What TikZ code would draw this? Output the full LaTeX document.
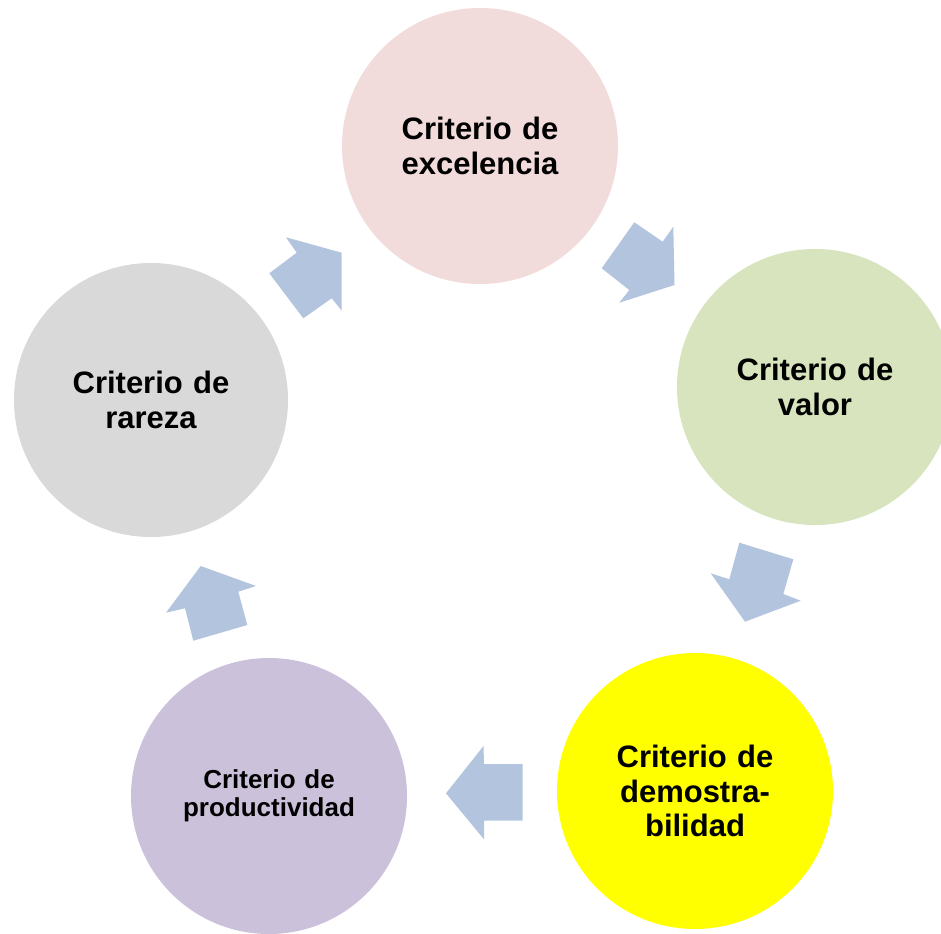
\documentclass[tikz,border=0pt]{standalone}
\usepackage{fontspec}
\setmainfont{Liberation Sans}
\definecolor{cpink}{HTML}{F2DCDB}
\definecolor{cgreen}{HTML}{D7E4BD}
\definecolor{cyellow}{HTML}{FFFF00}
\definecolor{cpurple}{HTML}{CCC1DA}
\definecolor{cgrey}{HTML}{D9D9D9}
\definecolor{carrow}{HTML}{B3C4DE}
\begin{document}
\begin{tikzpicture}[x=1pt,y=-1pt,
  crit/.style={circle,minimum size=276pt,inner sep=0pt,align=center,text width=200pt,
     font=\fontsize{31}{34.5}\selectfont\bfseries},
  blockarrow/.style={fill=carrow,draw=none}]
\clip (0,0) rectangle (941,933);
\fill[white] (0,0) rectangle (941,933);
% circles
\node[crit,fill=cpink]   (exc) at (480,146) {Criterio de\\excelencia};
\node[crit,fill=cgreen]  (val) at (815,387) {Criterio de\\valor};
\node[crit,fill=cyellow] (dem) at (695,791) {Criterio de\\demostra-\\bilidad};
\node[crit,fill=cpurple,font=\fontsize{26}{27.5}\selectfont\bfseries] (pro) at (269,796) {Criterio de\\productividad};
\node[crit,fill=cgrey,minimum size=274pt]   (rar) at (151,400) {Criterio de\\rareza};
% block arrows
\fill[blockarrow] (634.3,222.3) -- (662.7,241.7) -- (673.3,226.7) -- (674.5,285) -- (619.3,302.7) -- (629.3,290) -- (601.7,268.3) -- cycle;
\fill[blockarrow] (739.3,542.7) -- (793.3,559.3) -- (783.3,594) -- (800.7,600.7) -- (745,621.7) -- (710.7,573.3) -- (729.3,579.3) -- cycle;
\fill[blockarrow] (483.5,746) -- (484,764) -- (522.7,764) -- (522.7,820.7) -- (484,820.7) -- (484,839.3) -- (446,793.3) -- cycle;
\fill[blockarrow] (200.7,566) -- (256,586) -- (238.3,591.7) -- (247.3,625) -- (193.3,640.7) -- (185,608.3) -- (166,612.7) -- cycle;
\fill[blockarrow] (286,237.3) -- (341.7,252.7) -- (341.7,310.7) -- (331.7,298.3) -- (303.3,318.3) -- (269.3,273.3) -- (296.7,252.7) -- cycle;
\end{tikzpicture}
\end{document}
